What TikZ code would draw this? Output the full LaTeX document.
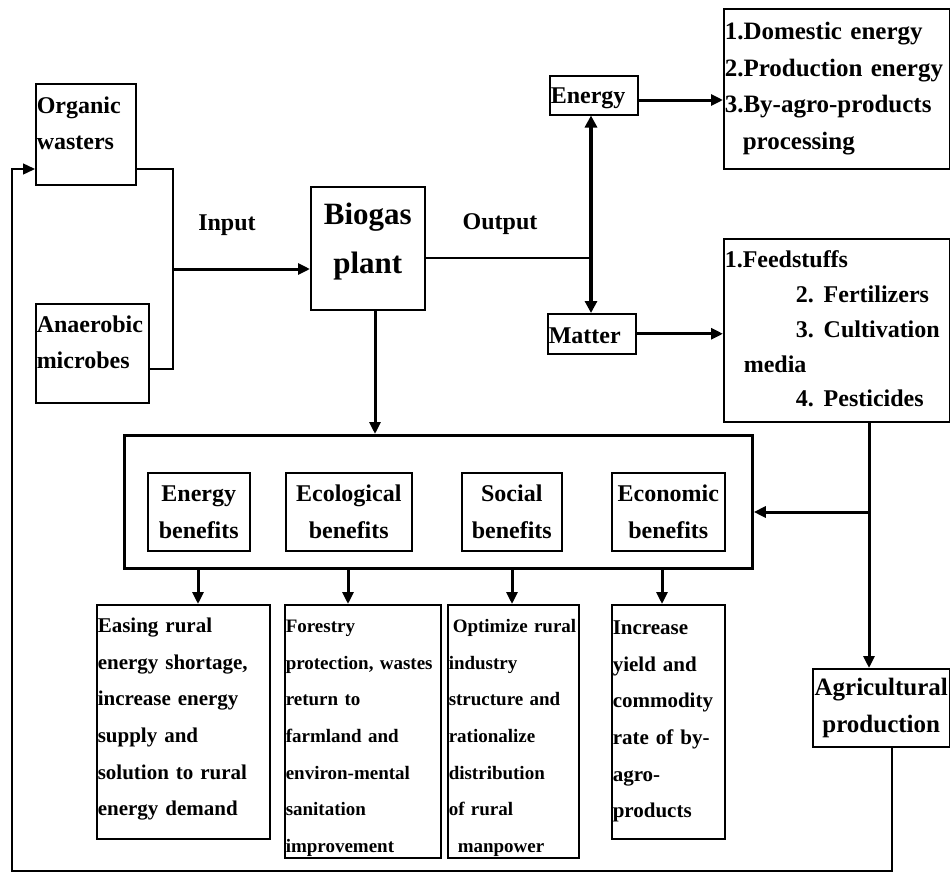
\documentclass[tikz,border=0pt]{standalone}
\usepackage{fontspec}
\setmainfont{Liberation Serif}
\usetikzlibrary{arrows.meta}
\newcommand{\fsz}[2]{\fontsize{#1}{#2}\selectfont}

\begin{document}
\begin{tikzpicture}[x=1pt, y=-1pt,
    box/.style={draw, line width=1.5pt, anchor=north west, inner xsep=1pt,
      inner ysep=0pt, align=left},
    sized/.style n args={3}{text width=#1, text height=#2, text depth=#3},
    heavy/.style={line width=3pt},
    slim/.style={line width=1.4pt},
    arr/.style={-{Triangle[length=12pt,width=11pt]}}]
  \useasboundingbox (0,0) rectangle (950,873);

  % inputs and plant
  \node[box, sized={98pt}{30pt}{71pt}, font={\bfseries\fsz{24}{36}}]
    (organic) at (35,83) {Organic\\wasters};
  \node[box, sized={111pt}{29pt}{70pt}, font={\bfseries\fsz{24}{36}}]
    (microbes) at (35,303) {Anaerobic\\microbes};
  \node[box, sized={112pt}{38pt}{85pt}, align=center, font={\bfseries\fsz{31}{49}}]
    (biogas) at (310,186) {Biogas\\plant};
  \node[font={\bfseries\fsz{24}{24}}] (inlbl) at (227,225) {Input};
  \node[font={\bfseries\fsz{24}{24}}] (outlbl) at (500,224) {Output};

  % outputs
  \node[box, sized={86pt}{28pt}{11pt}, font={\bfseries\fsz{24}{24}}]
    (energy) at (549,75) {Energy};
  \node[box, sized={86pt}{30pt}{10pt}, font={\bfseries\fsz{24}{24}}]
    (matter) at (547,313) {Matter};
  \node[box, sized={224pt}{31pt}{129pt}, font={\bfseries\fsz{25}{36.5}}]
    (elist) at (723,8) {1.Domestic energy\\2.Production energy\\
      3.By-agro-products\\\hspace*{18pt}processing};
  \node[box, sized={224pt}{29pt}{154pt}, font={\bfseries\fsz{24}{34.8}}]
    (mlist) at (723,238) {1.Feedstuffs\\
      \hspace*{71pt}2.\hspace{10pt}Fertilizers\\
      \hspace*{71pt}3.\hspace{10pt}Cultivation\\
      \hspace*{19pt}media\\
      \hspace*{71pt}4.\hspace{10pt}Pesticides};

  % benefits
  \node[draw, line width=2.8pt, anchor=north west, inner sep=0pt,
    minimum width=628pt, minimum height=133pt] (benefits) at (123,434) {};
  \node[box, sized={100pt}{29pt}{49pt}, align=center, font={\bfseries\fsz{24}{37}}]
    (eb) at (147,472) {Energy\\benefits};
  \node[box, sized={124pt}{29pt}{49pt}, align=center, font={\bfseries\fsz{24}{37}}]
    (cb) at (285,472) {Ecological\\benefits};
  \node[box, sized={98pt}{29pt}{49pt}, align=center, font={\bfseries\fsz{24}{37}}]
    (sb) at (461,472) {Social\\benefits};
  \node[box, sized={111pt}{29pt}{49pt}, align=center, font={\bfseries\fsz{24}{37}}]
    (nb) at (611,472) {Economic\\benefits};

  % effects
  \node[box, sized={171pt}{28pt}{206pt}, font={\bfseries\fsz{21}{36.6}}]
    (b1) at (96,604) {Easing rural\\energy shortage,\\increase energy\\
      supply and\\solution to rural\\energy demand};
  \node[box, sized={154pt}{28pt}{225pt}, font={\bfseries\fsz{19}{36.6}}]
    (b2) at (284,604) {Forestry\\protection, wastes\\return to\\
      farmland and\\environ-mental\\sanitation\\improvement};
  \node[box, sized={129pt}{28pt}{225pt}, font={\bfseries\fsz{19}{36.6}}]
    (b3) at (447,604) {\hspace*{4pt}Optimize rural\\industry\\structure and\\
      rationalize\\distribution\\of rural\\\hspace*{9pt}manpower};
  \node[box, sized={111pt}{30pt}{204pt}, font={\bfseries\fsz{21}{36.6}}]
    (b4) at (611,604) {Increase\\yield and\\commodity\\rate of by-\\
      agro-\\products};
  \node[box, sized={135pt}{27pt}{51pt}, align=center, font={\bfseries\fsz{25}{37}}]
    (agri) at (812,668) {Agricultural\\production};

  % connectors
  \coordinate (join) at (173,269);
  \coordinate (split) at (591,258);
  \coordinate (drop) at (375,0);
  \coordinate (rail) at (869,512);
  \coordinate (fbr) at (892,871);
  \coordinate (fbl) at (12,871);

  \draw[slim] (organic.east |- 0,169) -| (join) |- (microbes.east |- 0,369);
  \draw[heavy, arr] (join) -- (biogas.west |- join);
  \draw[slim] (biogas.east |- split) -- (split);
  \draw[line width=3.8pt, {Triangle[length=12pt,width=12pt]}-{Triangle[length=12pt,width=12pt]}]
    (energy.south -| split) -- (matter.north -| split);
  \draw[heavy, arr] (energy.east |- 0,100) -- (elist.west |- 0,100);
  \draw[heavy, arr] (matter.east) -- (mlist.west |- matter.east);
  \draw[heavy, arr] (biogas.south -| drop) -- (benefits.north -| drop);
  \draw[heavy, arr] (mlist.south -| rail) -- (agri.north -| rail);
  \draw[heavy, arr] (rail) -- (benefits.east |- rail);
  \foreach \n/\x in {b1/198, b2/348, b3/512, b4/662}
    \draw[heavy, arr] (benefits.south -| \x,0) -- (\n.north -| \x,0);
  \draw[slim, arr] (agri.south -| fbr) -- (fbr) -- (fbl) |- (organic.west |- 0,169);
\end{tikzpicture}
\end{document}
